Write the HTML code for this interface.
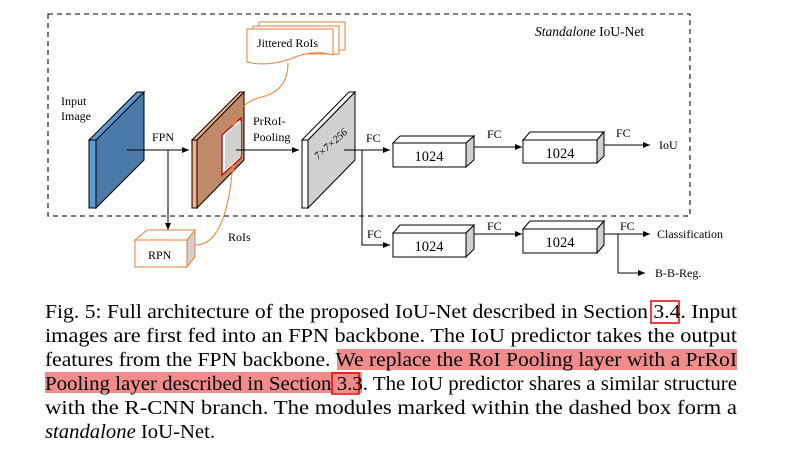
<!DOCTYPE html>
<html><head><meta charset="utf-8"><style>
html,body{margin:0;padding:0;background:#fff;width:807px;height:464px;overflow:hidden}
svg{display:block}
text{font-family:"Liberation Serif",serif;fill:#000}
</style></head><body>
<svg width="807" height="464" viewBox="0 0 807 464" xmlns="http://www.w3.org/2000/svg">
<defs>
<marker id="a" markerWidth="8" markerHeight="8" refX="7" refY="4" orient="auto" markerUnits="userSpaceOnUse"><path d="M0,1 L7,4 L0,7 z" fill="#000"/></marker>
<marker id="o" markerWidth="8" markerHeight="8" refX="7" refY="4" orient="auto" markerUnits="userSpaceOnUse"><path d="M0,1 L7,4 L0,7 z" fill="#ed7d31"/></marker>
</defs>
<rect x="48" y="14" width="642" height="202" fill="none" stroke="#333" stroke-width="1.3" stroke-dasharray="5,4"/>
<text x="535" y="36" font-size="13.5"><tspan font-style="italic">Standalone</tspan> IoU-Net</text>

<polygon points="96,140 144,92 144,160 96,208" fill="#4a7aa8" stroke="#000" stroke-width="1"/>
<polygon points="89,140 137,92 144,92 96,140" fill="#5b9bd5" stroke="#000" stroke-width="1"/>
<rect x="89" y="140" width="7" height="68" fill="#5b9bd5" stroke="#000" stroke-width="1"/>
<text x="61" y="105" font-size="12">Input</text><text x="61" y="120" font-size="12">Image</text>

<polygon points="197,140 244,92 244,160 197,208" fill="#c0896a" stroke="#000" stroke-width="1"/>
<polygon points="192,140 240,92 244,92 197,140" fill="#f4b183" stroke="#000" stroke-width="1"/>
<rect x="192" y="140" width="5" height="68" fill="#f4b183" stroke="#000" stroke-width="1"/>
<polygon points="222,135 241,118 241,158 222,175" fill="#fff" stroke="#c00000" stroke-width="1.3"/>
<polygon points="225,135 241,121 241,156 225,170" fill="#d0d0d0"/>

<polygon points="308,140 355,92 355,160 308,208" fill="#d0d0d0" stroke="#000" stroke-width="1"/>
<polygon points="302,140 349,92 355,92 308,140" fill="#fff" stroke="#000" stroke-width="1"/>
<rect x="302" y="140" width="6" height="68" fill="#fff" stroke="#000" stroke-width="1"/>
<text x="318" y="160" font-size="10.5" fill="#444" transform="rotate(-42 318 160)" style="font-style:italic">7×7×256</text>

<line x1="127" y1="150" x2="189" y2="150" stroke="#000" marker-end="url(#a)"/>
<text x="152" y="141" font-size="12">FPN</text>
<line x1="168" y1="150" x2="168" y2="230" stroke="#000" marker-end="url(#a)"/>
<line x1="236" y1="150" x2="299" y2="150" stroke="#000" marker-end="url(#a)"/>
<text x="253" y="125" font-size="12">PrRoI-</text><text x="253" y="141" font-size="12">Pooling</text>

<polygon points="135,240 147,230 195,230 187,240" fill="#fff" stroke="#ed7d31"/>
<polygon points="187,240 195,230 195,257 187,267" fill="#d0d0d0" stroke="#ed7d31"/>
<rect x="135" y="240" width="52" height="27" fill="#fff" stroke="#ed7d31"/>
<text x="148" y="259" font-size="12">RPN</text>
<text x="228" y="241" font-size="12">RoIs</text>
<path d="M196,245 C215,245 225,220 230,190 C232,178 232,170 233,164" fill="none" stroke="#ed7d31" marker-end="url(#o)"/>

<path d="M259,22 h86 v28 h-86z" fill="#fff" stroke="#ed7d31"/>
<path d="M253,26 h86 v28 h-86z" fill="#fff" stroke="#ed7d31"/>
<path d="M247,29 h86 v26 q-20,-6 -43,4 q-23,8 -43,3 z" fill="#fff" stroke="#ed7d31"/>
<text x="257" y="47" font-size="12">Jittered RoIs</text>
<path d="M288,63 C288,90 270,95 258,98 C240,104 236,115 233,127" fill="none" stroke="#ed7d31" marker-end="url(#o)"/>

<line x1="344" y1="150" x2="390" y2="150" stroke="#000" marker-end="url(#a)"/>
<text x="366" y="142" font-size="12">FC</text>
<polyline points="362,150 362,245 390,245" fill="none" stroke="#000" marker-end="url(#a)"/>
<text x="367" y="238" font-size="12">FC</text>

<polygon points="393,143 400,136 474,136 466,143" fill="#fff" stroke="#000"/>
<polygon points="466,143 474,136 474,160 466,167" fill="#d0d0d0" stroke="#000"/>
<rect x="393" y="143" width="73" height="24" fill="#fff" stroke="#000"/>
<text x="429" y="161" font-size="14.5" text-anchor="middle">1024</text>
<line x1="474" y1="147" x2="522" y2="147" stroke="#000" marker-end="url(#a)"/>
<text x="487" y="138" font-size="12">FC</text>
<polygon points="523,140 530,132 604,132 597,140" fill="#fff" stroke="#000"/>
<polygon points="597,140 604,132 604,156 597,163" fill="#d0d0d0" stroke="#000"/>
<rect x="523" y="140" width="74" height="23" fill="#fff" stroke="#000"/>
<text x="560" y="158" font-size="14.5" text-anchor="middle">1024</text>
<line x1="604" y1="145" x2="650" y2="145" stroke="#000" marker-end="url(#a)"/>
<text x="616" y="137" font-size="12">FC</text>
<text x="659" y="149" font-size="12">IoU</text>

<polygon points="393,233 400,225 474,225 466,233" fill="#fff" stroke="#000"/>
<polygon points="466,233 474,225 474,249 466,257" fill="#d0d0d0" stroke="#000"/>
<rect x="393" y="233" width="73" height="24" fill="#fff" stroke="#000"/>
<text x="429" y="251" font-size="14.5" text-anchor="middle">1024</text>
<line x1="474" y1="234" x2="522" y2="234" stroke="#000" marker-end="url(#a)"/>
<text x="487" y="230" font-size="12">FC</text>
<polygon points="523,229 530,221 604,221 597,229" fill="#fff" stroke="#000"/>
<polygon points="597,229 604,221 604,245 597,253" fill="#d0d0d0" stroke="#000"/>
<rect x="523" y="229" width="74" height="24" fill="#fff" stroke="#000"/>
<text x="560" y="247" font-size="14.5" text-anchor="middle">1024</text>
<line x1="604" y1="234" x2="650" y2="234" stroke="#000" marker-end="url(#a)"/>
<text x="620" y="230" font-size="12">FC</text>
<text x="657" y="238" font-size="12">Classification</text>
<polyline points="618,234 618,273 645,273" fill="none" stroke="#000" marker-end="url(#a)"/>
<text x="655" y="277" font-size="12">B-B-Reg.</text>

<rect x="337" y="349" width="400" height="21" fill="#f28b8b"/>
<rect x="45" y="372" width="317" height="21" fill="#f28b8b"/>
<rect x="651" y="301" width="28" height="22" fill="none" stroke="#e00" stroke-width="1.5"/>
<rect x="332" y="373" width="27" height="21" fill="none" stroke="#e00" stroke-width="1.5"/>
<g font-size="20">
<text x="45" y="318" textLength="692" lengthAdjust="spacingAndGlyphs">Fig. 5: Full architecture of the proposed IoU-Net described in Section 3.4. Input</text>
<text x="45" y="342" textLength="692" lengthAdjust="spacingAndGlyphs">images are first fed into an FPN backbone. The IoU predictor takes the output</text>
<text x="45" y="366" textLength="692" lengthAdjust="spacingAndGlyphs">features from the FPN backbone. We replace the RoI Pooling layer with a PrRoI</text>
<text x="45" y="390" textLength="692" lengthAdjust="spacingAndGlyphs">Pooling layer described in Section 3.3. The IoU predictor shares a similar structure</text>
<text x="45" y="414" textLength="692" lengthAdjust="spacingAndGlyphs">with the R-CNN branch. The modules marked within the dashed box form a</text>
<text x="45" y="438" textLength="170" lengthAdjust="spacingAndGlyphs"><tspan font-style="italic">standalone</tspan> IoU-Net.</text>
</g>
</svg>
</body></html>
